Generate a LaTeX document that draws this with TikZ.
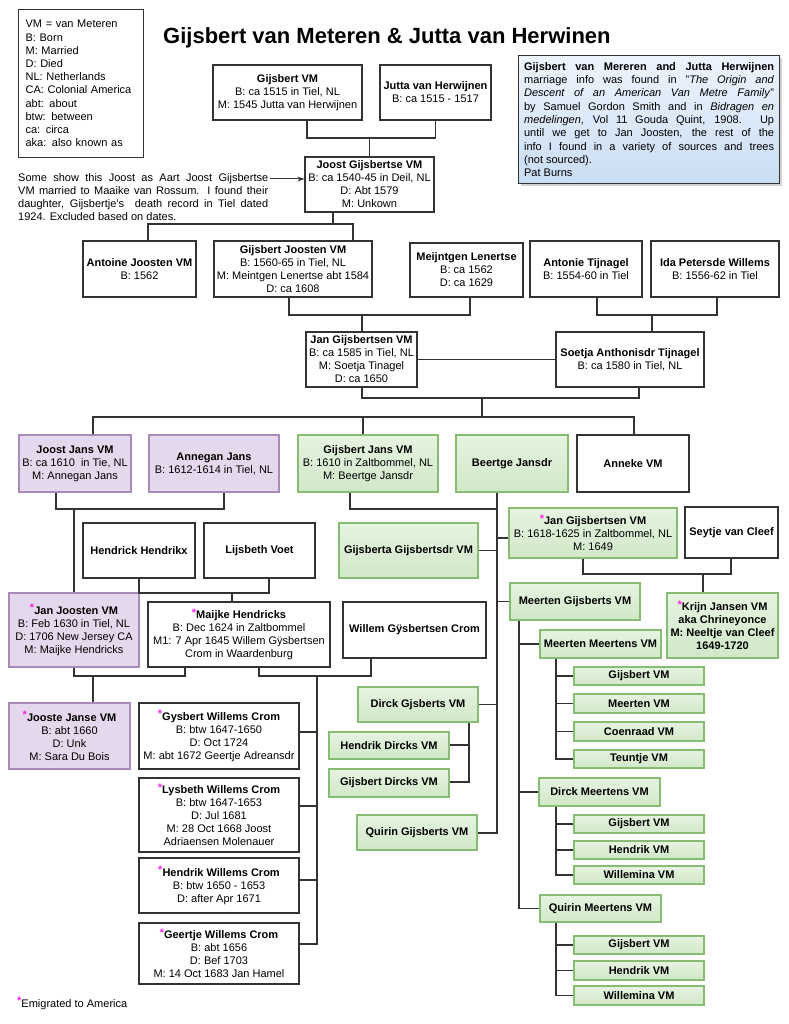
\documentclass[tikz,border=0pt]{standalone}
\usepackage{fontspec}
\setmainfont{Liberation Sans}
\usetikzlibrary{arrows.meta,shadows}
\definecolor{ln}{HTML}{333333}
\definecolor{pfill}{HTML}{E6D8EC}
\definecolor{pdraw}{HTML}{A98BB9}
\definecolor{gtop}{HTML}{E6F3E0}
\definecolor{gbot}{HTML}{D0E8C8}
\definecolor{gdraw}{HTML}{86BD72}
\definecolor{btop}{HTML}{EEF4FC}
\definecolor{bbot}{HTML}{C9DDF3}
\definecolor{starc}{HTML}{FF22EE}
\newcommand\fs{\fontsize{11}{13}\selectfont}
\newcommand\emstar{{\color{starc}\raisebox{2.5pt}{\fontsize{11}{11}\selectfont\bfseries *}}}
\newcommand\jline[1]{\makebox[250pt][s]{#1}}
\newcommand\bx[7]{\node[#2, minimum width={(#5-#3)*1pt}, minimum height={(#6-#4)*1pt}] (#1) at ({(#3+#5)/2},{(#4+#6)/2}) {#7};}
\tikzset{
  basebox/.style={draw=ln, line width=1.2pt, align=center, font=\fs, inner sep=0pt, text=black},
  wbox/.style={basebox, fill=white},
  pbox/.style={basebox, draw=pdraw, fill=pfill},
  gbox/.style={basebox, draw=gdraw, top color=gtop, bottom color=gbot},
  conn/.style={draw=ln, line width=1.2pt},
}
\begin{document}
\begin{tikzpicture}[x=1pt,y=-1pt]
\fill[white] (0,0) rectangle (788,1024);
\useasboundingbox (0,0) rectangle (788,1024);

% legend
\node[basebox, fill=white, anchor=north west, text width=111pt, inner xsep=7pt, minimum height=148pt, align=left, font=\fontsize{11}{13.2}\selectfont] (legend) at (18,9)
{VM = van Meteren\\B: Born\\M: Married\\D: Died\\NL: Netherlands\\CA: Colonial America\\abt: about\\btw: between\\ca: circa\\aka: also known as};

% title
\node[font=\fontsize{22}{26}\selectfont\bfseries, anchor=base west, inner sep=0pt] (title) at (163,44) {Gijsbert van Meteren \& Jutta van Herwinen};

% note
\node[basebox, draw=ln, top color=btop, bottom color=bbot, anchor=north west, minimum width=261pt, inner xsep=5.5pt, minimum height=128pt, align=left, font=\fontsize{11}{13.3}\selectfont, drop shadow={shadow xshift=2.5pt,shadow yshift=-2.5pt,fill=black!35}] (note) at (518,55)
{\jline{\textbf{Gijsbert van Mereren and Jutta Herwijnen}}\\
\jline{marriage info was found in "\textit{The Origin and}}\\
\jline{\textit{Descent of an American Van Metre Family}"}\\
\jline{by Samuel Gordon Smith and in \textit{Bidragen en}}\\
\jline{\textit{medelingen}, Vol 11 Gouda Quint, 1908. Up}\\
\jline{until we get to Jan Joosten, the rest of the}\\
\jline{info I found in a variety of sources and trees}\\
(not sourced).\\
Pat Burns};

% annotation
\node[anchor=north west, align=left, font=\fs, inner sep=0pt] (annot) at (18,173)
{\jline{Some show this Joost as Aart Joost Gijsbertse}\\
\jline{VM married to Maaike van Rossum. I found their}\\
\jline{daughter, Gijsbertje's\ \ death record in Tiel dated}\\
1924. Excluded based on dates.};

% boxes
\bx{gvm}{wbox}{213}{65}{362}{120}{\textbf{Gijsbert VM}\\B: ca 1515 in Tiel, NL\\M: 1545 Jutta van Herwijnen}
\bx{jutta}{wbox}{380}{65}{491}{120}{\textbf{Jutta van Herwijnen}\\B: ca 1515 - 1517}
\bx{joost}{wbox}{305}{157}{434}{212}{\textbf{Joost Gijsbertse VM}\\B: ca 1540-45 in Deil, NL\\D: Abt 1579\\M: Unkown}

\bx{antoine}{wbox}{83}{241}{196}{297}{\textbf{Antoine Joosten VM}\\B: 1562}
\bx{gj}{wbox}{214}{241}{372}{297}{\textbf{Gijsbert Joosten VM}\\B: 1560-65 in Tiel, NL\\M: Meintgen Lenertse abt 1584\\D: ca 1608}
\bx{mei}{wbox}{410}{243}{523}{297}{\textbf{Meijntgen Lenertse}\\B: ca 1562\\D: ca 1629}
\bx{antonie}{wbox}{530}{241}{642}{297}{\textbf{Antonie Tijnagel}\\B: 1554-60 in Tiel}
\bx{ida}{wbox}{651}{241}{779}{297}{\textbf{Ida Petersde Willems}\\B: 1556-62 in Tiel}

\bx{jang}{wbox}{306}{332}{417}{387}{\textbf{Jan Gijsbertsen VM}\\B: ca 1585 in Tiel, NL\\M: Soetja Tinagel\\D: ca 1650}
\bx{soetja}{wbox}{556}{332}{704}{387}{\textbf{Soetja Anthonisdr Tijnagel}\\B: ca 1580 in Tiel, NL}

\bx{joostj}{pbox}{19}{435}{131}{492}{\textbf{Joost Jans VM}\\B: ca 1610\ \ in Tie, NL\\M: Annegan Jans}
\bx{annegan}{pbox}{149}{435}{279}{492}{\textbf{Annegan Jans}\\B: 1612-1614 in Tiel, NL}
\bx{gijj}{gbox}{298}{435}{438}{492}{\textbf{Gijsbert Jans VM}\\B: 1610 in Zaltbommel, NL\\M: Beertge Jansdr}
\bx{beertge}{gbox}{456}{435}{568}{492}{\textbf{Beertge Jansdr}}
\bx{anneke}{wbox}{577}{435}{689}{492}{\textbf{Anneke VM}}

\bx{hendrick}{wbox}{83}{523}{195}{578}{\textbf{Hendrick Hendrikx}}
\bx{lijsbeth}{wbox}{204}{523}{315}{578}{\textbf{Lijsbeth Voet}}
\bx{gijsberta}{gbox}{339}{523}{478}{578}{\textbf{Gijsberta Gijsbertsdr VM}}
\bx{jangv}{gbox}{509}{508}{677}{558}{\emstar\textbf{Jan Gijsbertsen VM}\\B: 1618-1625 in Zaltbommel, NL\\M: 1649}
\bx{seytje}{wbox}{685}{507}{778}{558}{\textbf{Seytje van Cleef}}

\bx{janjo}{pbox}{9}{593}{139}{667}{\emstar\textbf{Jan Joosten VM}\\B: Feb 1630 in Tiel, NL\\D: 1706 New Jersey CA\\M: Maijke Hendricks}
\bx{maijke}{wbox}{148}{602}{330}{667}{\emstar\textbf{Maijke Hendricks}\\B: Dec 1624 in Zaltbommel\\M1: 7 Apr 1645 Willem Gÿsbertsen\\Crom in Waardenburg}
\bx{willem}{wbox}{343}{602}{486}{658}{\textbf{Willem Gÿsbertsen Crom}}
\bx{meerteng}{gbox}{510}{583}{640}{620}{\textbf{Meerten Gijsberts VM}}
\bx{krijn}{gbox}{667}{593}{778}{658}{\emstar\textbf{Krijn Jansen VM}\\\textbf{aka Chrineyonce}\\\textbf{M: Neeltje van Cleef}\\\textbf{1649-1720}}
\bx{meertenm}{gbox}{540}{630}{661}{658}{\textbf{Meerten Meertens VM}}

\bx{c11}{gbox}{574}{667}{704}{685}{\textbf{Gijsbert VM}}
\bx{c12}{gbox}{574}{694}{704}{713}{\textbf{Meerten VM}}
\bx{c13}{gbox}{574}{722}{704}{741}{\textbf{Coenraad VM}}
\bx{c14}{gbox}{574}{750}{704}{768}{\textbf{Teuntje VM}}
\bx{dirckm}{gbox}{539}{778}{660}{806}{\textbf{Dirck Meertens VM}}
\bx{c21}{gbox}{574}{815}{704}{833}{\textbf{Gijsbert VM}}
\bx{c22}{gbox}{574}{841}{704}{859}{\textbf{Hendrik VM}}
\bx{c23}{gbox}{574}{866}{704}{884}{\textbf{Willemina VM}}
\bx{quirinm}{gbox}{540}{895}{661}{922}{\textbf{Quirin Meertens VM}}
\bx{c31}{gbox}{574}{936}{704}{954}{\textbf{Gijsbert VM}}
\bx{c32}{gbox}{574}{961}{704}{980}{\textbf{Hendrik VM}}
\bx{c33}{gbox}{574}{986}{704}{1005}{\textbf{Willemina VM}}

\bx{dirckg}{gbox}{358}{687}{478}{722}{\textbf{Dirck Gjsberts VM}}
\bx{hendd}{gbox}{329}{732}{449}{759}{\textbf{Hendrik Dircks VM}}
\bx{gijd}{gbox}{329}{769}{449}{797}{\textbf{Gijsbert Dircks VM}}
\bx{quiring}{gbox}{357}{815}{477}{850}{\textbf{Quirin Gijsberts VM}}

\bx{jooste}{pbox}{9}{703}{130}{769}{\emstar\textbf{Jooste Janse VM}\\B: abt 1660\\D: Unk\\M: Sara Du Bois}
\bx{gysw}{wbox}{139}{703}{299}{769}{\emstar\textbf{Gysbert Willems Crom}\\B: btw 1647-1650\\D: Oct 1724\\M: abt 1672 Geertje Adreansdr}
\bx{lysw}{wbox}{139}{778}{299}{852}{\emstar\textbf{Lysbeth Willems Crom}\\B: btw 1647-1653\\D: Jul 1681\\M: 28 Oct 1668 Joost\\Adriaensen Molenauer}
\bx{hendw}{wbox}{139}{858}{299}{913}{\emstar\textbf{Hendrik Willems Crom}\\B: btw 1650 - 1653\\D: after Apr 1671}
\bx{geertw}{wbox}{139}{923}{299}{984}{\emstar\textbf{Geertje Willems Crom}\\B: abt 1656\\D: Bef 1703\\M: 14 Oct 1683 Jan Hamel}

\node[anchor=base west, font=\fs, inner sep=0pt] (foot) at (17,1007) {\emstar Emigrated to America};

% ---------- connectors ----------
\coordinate (arr) at (270,179);
\draw[conn, line width=1pt, -{Stealth[length=7pt,width=5pt]}] (arr) -- (arr -| joost.west);

\coordinate (k1) at (307,138);
\draw[conn] (gvm.south -| k1) -- (k1) -| (jutta.south);
\draw[conn] (joost.north) -- (joost.north |- k1);

\coordinate (k2) at (333,224); \coordinate (k2a) at (148,224); \coordinate (k2b) at (353,224);
\draw[conn] (joost.south -| k2) -- (k2);
\draw[conn] (antoine.north -| k2a) -- (k2a) -- (k2b) -- (gj.north -| k2b);

\coordinate (k3a) at (289,315); \coordinate (k3b) at (470,315); \coordinate (k3c) at (362,315);
\draw[conn] (gj.south -| k3a) -- (k3a) -- (k3b) -- (mei.south -| k3b);
\draw[conn] (k3c) -- (jang.north -| k3c);
\coordinate (k4a) at (597,315); \coordinate (k4b) at (717,315); \coordinate (k4c) at (652,315);
\draw[conn] (antonie.south -| k4a) -- (k4a) -- (k4b) -- (ida.south -| k4b);
\draw[conn] (k4c) -- (soetja.north -| k4c);
\draw[conn] (jang.east) -- (jang.east -| soetja.west);

\coordinate (k5a) at (362,398); \coordinate (k5b) at (639,398); \coordinate (k5c) at (482,398);
\draw[conn] (jang.south -| k5a) -- (k5a) -- (k5b) -- (soetja.south -| k5b);
\coordinate (k6) at (482,417); \draw[conn] (k5c) -- (k6);
\coordinate (k6a) at (93,417); \coordinate (k6b) at (363,417); \coordinate (k6c) at (634,417);
\draw[conn] (joostj.north -| k6a) -- (k6a) -- (k6c) -- (anneke.north -| k6c);
\draw[conn] (k6b) -- (gijj.north -| k6b);

\coordinate (k7a) at (56,509); \coordinate (k7b) at (224,509); \coordinate (k7c) at (74,509);
\draw[conn] (joostj.south -| k7a) -- (k7a) -- (k7b) -- (annegan.south -| k7b);
\draw[conn] (k7c) -- (janjo.north -| k7c);

\coordinate (k8a) at (350,509); \coordinate (k8b) at (497,509); \coordinate (k8e) at (497,833);
\draw[conn] (gijj.south -| k8a) -- (k8a) -- (k8b) -- (beertge.south -| k8b);
\draw[conn] (k8b) -- (k8e) -- (k8e -| quiring.east);
\coordinate (b1) at (497,538); \draw[conn] (b1) -- (b1 -| jangv.west);
\draw[conn] (gijsberta.east) -- (gijsberta.east -| k8b);
\draw[conn] (meerteng.west) -- (meerteng.west -| k8b);
\draw[conn] (dirckg.east) -- (dirckg.east -| k8b);

\coordinate (k9a) at (583,574); \coordinate (k9b) at (731,574); \coordinate (k9c) at (703,574);
\draw[conn] (jangv.south -| k9a) -- (k9a) -- (k9b) -- (seytje.south -| k9b);
\draw[conn] (k9c) -- (krijn.north -| k9c);

\coordinate (k10) at (519,908.5);
\draw[conn] (meerteng.south -| k10) -- (k10) -- (k10 -| quirinm.west);
\draw[conn] (meertenm.west) -- (meertenm.west -| k10);
\draw[conn] (dirckm.west) -- (dirckm.west -| k10);

\coordinate (k11) at (556,759);
\draw[conn] (meertenm.south -| k11) -- (k11) -- (k11 -| c14.west);
\foreach \c in {c11,c12,c13} \draw[conn] (\c.west) -- (\c.west -| k11);
\coordinate (k12) at (556,875);
\draw[conn] (dirckm.south -| k12) -- (k12) -- (k12 -| c23.west);
\foreach \c in {c21,c22} \draw[conn] (\c.west) -- (\c.west -| k12);
\coordinate (k13) at (556,995.5);
\draw[conn] (quirinm.south -| k13) -- (k13) -- (k13 -| c33.west);
\foreach \c in {c31,c32} \draw[conn] (\c.west) -- (\c.west -| k13);

\coordinate (k14a) at (139,593); \coordinate (k14b) at (269,593); \coordinate (k14c) at (232,593);
\draw[conn] (hendrick.south -| k14a) -- (k14a) -- (k14b) -- (lijsbeth.south -| k14b);
\draw[conn] (k14c) -- (maijke.north -| k14c);

\coordinate (k15a) at (74,676); \coordinate (k15b) at (185,676); \coordinate (k15c) at (93,676);
\draw[conn] (janjo.south -| k15a) -- (k15a) -- (k15b) -- (maijke.south -| k15b);
\draw[conn] (k15c) -- (jooste.north -| k15c);

\coordinate (k16a) at (259,676); \coordinate (k16b) at (371,676); \coordinate (k16c) at (317,676);
\draw[conn] (maijke.south -| k16a) -- (k16a) -- (k16b) -- (willem.south -| k16b);
\coordinate (k16d) at (317,944);
\draw[conn] (k16c) -- (k16d) -- (k16d -| geertw.east);
\coordinate (w1) at (317,732); \draw[conn] (w1) -- (w1 -| gysw.east);
\coordinate (w2) at (317,806); \draw[conn] (w2) -- (w2 -| lysw.east);
\coordinate (w3) at (317,880); \draw[conn] (w3) -- (w3 -| hendw.east);

\coordinate (k17) at (469,782); \coordinate (k17b) at (469,745);
\draw[conn] (dirckg.south -| k17) -- (k17) -- (k17 -| gijd.east);
\draw[conn] (k17b) -- (k17b -| hendd.east);
\end{tikzpicture}
\end{document}
